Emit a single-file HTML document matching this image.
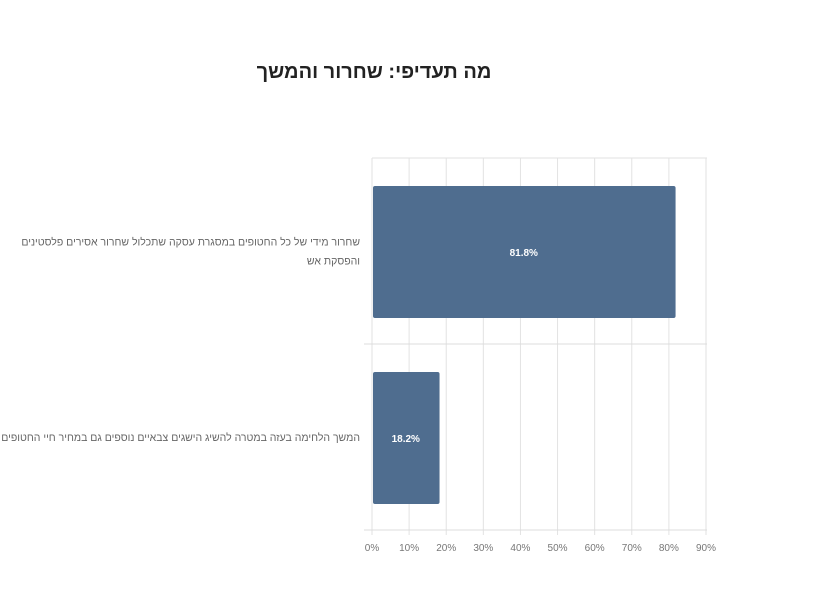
<!DOCTYPE html>
<html><head><meta charset="utf-8">
<style>
html,body{margin:0;padding:0;background:#fff;width:821px;height:596px;overflow:hidden}
svg{display:block;font-family:"Liberation Sans","Noto Sans CJK SC",sans-serif}
</style></head>
<body>
<svg id="chart" width="821" height="596">
<text x="374" y="78" text-anchor="middle" font-size="20" font-weight="bold" fill="#222" direction="rtl">מה תעדיפי: שחרור והמשך</text>
<g id="grid"></g>
<g id="bars"></g>
<g id="xticks"></g>
<g id="ylabels"></g>
</svg>
<script>
const categories=[["שחרור מידי של כל החטופים במסגרת עסקה שתכלול שחרור אסירים פלסטינים","והפסקת אש"],["המשך הלחימה בעזה במטרה להשיג הישגים צבאיים נוספים גם במחיר חיי החטופים"]];
const values=[81.8,18.2];
const valueLabels=["81.8%","18.2%"];
const ticks=[0,10,20,30,40,50,60,70,80,90];
const tickLabels=["0%","10%","20%","30%","40%","50%","60%","70%","80%","90%"];

const NS="http://www.w3.org/2000/svg";
const x0=372,x1=706,plotTop=158,plotBottom=530;
const xs=v=>x0+(v/90)*(x1-x0);
const band=(plotBottom-plotTop)/categories.length;
function mk(t,a,p){const e=document.createElementNS(NS,t);for(const k in a)e.setAttribute(k,a[k]);p.appendChild(e);return e;}
const grid=document.getElementById('grid'),bars=document.getElementById('bars'),xt=document.getElementById('xticks'),yl=document.getElementById('ylabels');
ticks.forEach((t,i)=>{
  const l=mk('line',{x1:xs(t),x2:xs(t),y1:plotTop,y2:plotBottom+5,stroke:'#e2e2e2','stroke-width':1},grid);
  
  
  const tx=mk('text',{x:xs(t),y:551,'text-anchor':'middle','font-size':10,fill:'#777'},xt);
  tx.textContent=tickLabels[i];
  
  
});
const tl=mk('line',{x1:x0,x2:x1+1,y1:plotTop,y2:plotTop,stroke:'#e2e2e2'},grid);


for(let i=1;i<=categories.length;i++){
  const y=plotTop+band*i;
  const l=mk('line',{x1:364,x2:x1+1,y1:y,y2:y,stroke:'#dcdcdc'},grid);
  
  
}
values.forEach((v,i)=>{
  const yTop=plotTop+band*i+28, h=band-54;
  const r=mk('rect',{x:x0+1,y:yTop,width:xs(v)-x0-1,height:h,rx:2,fill:'#4f6d8f'},bars);
  
  
  const t=mk('text',{x:(x0+xs(v))/2,y:yTop+h/2+4,'text-anchor':'middle','font-size':10,'font-weight':'bold',fill:'#fff'},bars);
  t.textContent=valueLabels[i];
  
  
  const lines=categories[i];
  const cy=plotTop+band*i+band/2;
  lines.forEach((ln,j)=>{
    const y=cy+4+(j-(lines.length-1)/2)*19;
    const c=mk('text',{x:360,y:y,'text-anchor':'start',direction:'rtl','font-size':10.5,fill:'#666'},yl);
    c.textContent=ln;
    
    
  });
});
</script>
</body></html>
